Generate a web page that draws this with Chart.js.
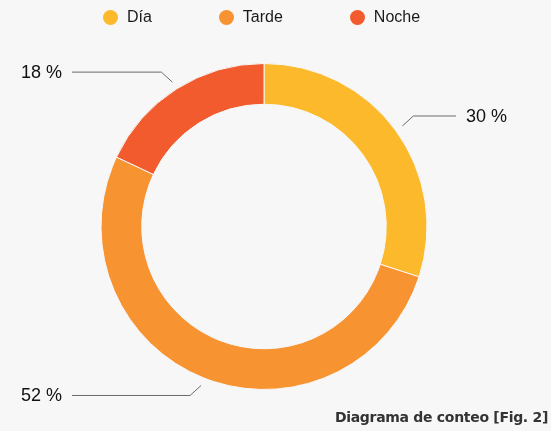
<!DOCTYPE html>
<html>
<head>
<meta charset="utf-8">
<script src="https://cdn.jsdelivr.net/npm/chart.js@4"></script>
<style>
  html, body { margin: 0; padding: 0; background: #f7f7f7; }
  #wrap { position: relative; width: 551px; height: 431px; }
  #legend { position: absolute; top: 8px; left: 0; width: 551px; display: flex; justify-content: center; gap: 67px;
    font: 16px "Liberation Sans", Arial, sans-serif; color: #1a1a1a; padding-right: 28px; box-sizing: border-box; }
  #legend span { display: flex; align-items: center; }
  #legend i { display: inline-block; width: 15px; height: 15px; border-radius: 50%; margin-right: 9px; }
  #caption { position: absolute; right: 3px; bottom: 6px; font: bold 14px "DejaVu Sans", sans-serif; color: #333; letter-spacing: -0.3px; }
</style>
</head>
<body>
<div id="wrap">
  <canvas id="c" width="551" height="431"></canvas>
  <div id="legend"></div>
  <div id="caption">Diagrama de conteo [Fig. 2]</div>
</div>
<script>
const categories = ['Día', 'Tarde', 'Noche'];
const values = [30, 52, 18];
const colors = ['#fbb92b', '#f79431', '#f15b2d'];

document.getElementById('legend').innerHTML = categories.map((c, i) =>
  `<span><i style="background:${colors[i]}"></i>${c}</span>`).join('');

// etiquetas fuera del anillo con línea quebrada
const outerLabels = {
  id: 'outerLabels',
  afterDatasetsDraw(chart) {
    const ctx = chart.ctx;
    const meta = chart.getDatasetMeta(0);
    const total = values.reduce((a, b) => a + b, 0);
    ctx.save();
    ctx.strokeStyle = '#6b6b6b';
    ctx.lineWidth = 1;
    ctx.fillStyle = '#111';
    ctx.font = '18px "Liberation Sans", Arial, sans-serif';
    ctx.textBaseline = 'middle';
    meta.data.forEach((arc, i) => {
      const mid = (arc.startAngle + arc.endAngle) / 2;
      const r = arc.outerRadius + 8;
      const x0 = arc.x + Math.cos(mid) * r, y0 = arc.y + Math.sin(mid) * r;
      const sx = Math.cos(mid) >= 0 ? 1 : -1, sy = Math.sin(mid) >= 0 ? 1 : -1;
      const x1 = x0 + sx * 11, y1 = y0 + sy * 10;
      const x2 = sx > 0 ? 456 : 72;
      ctx.beginPath();
      ctx.moveTo(x0, y0); ctx.lineTo(x1, y1); ctx.lineTo(x2, y1);
      ctx.stroke();
      ctx.textAlign = sx > 0 ? 'left' : 'right';
      const pct = Math.round(values[i] / total * 100) + ' %';
      ctx.fillText(pct, x2 + sx * 10, y1 + 1);
    });
    ctx.restore();
  }
};

new Chart(document.getElementById('c'), {
  type: 'doughnut',
  data: {
    labels: categories,
    datasets: [{ data: values, backgroundColor: colors, borderColor: '#f7f7f7', borderWidth: 1, hoverOffset: 0 }]
  },
  options: {
    responsive: false,
    animation: false,
    cutout: '75%',
    layout: { padding: { top: 63, bottom: 41, left: 60, right: 83 } },
    plugins: { legend: { display: false }, tooltip: { enabled: false } }
  },
  plugins: [outerLabels]
});
</script>
</body>
</html>
